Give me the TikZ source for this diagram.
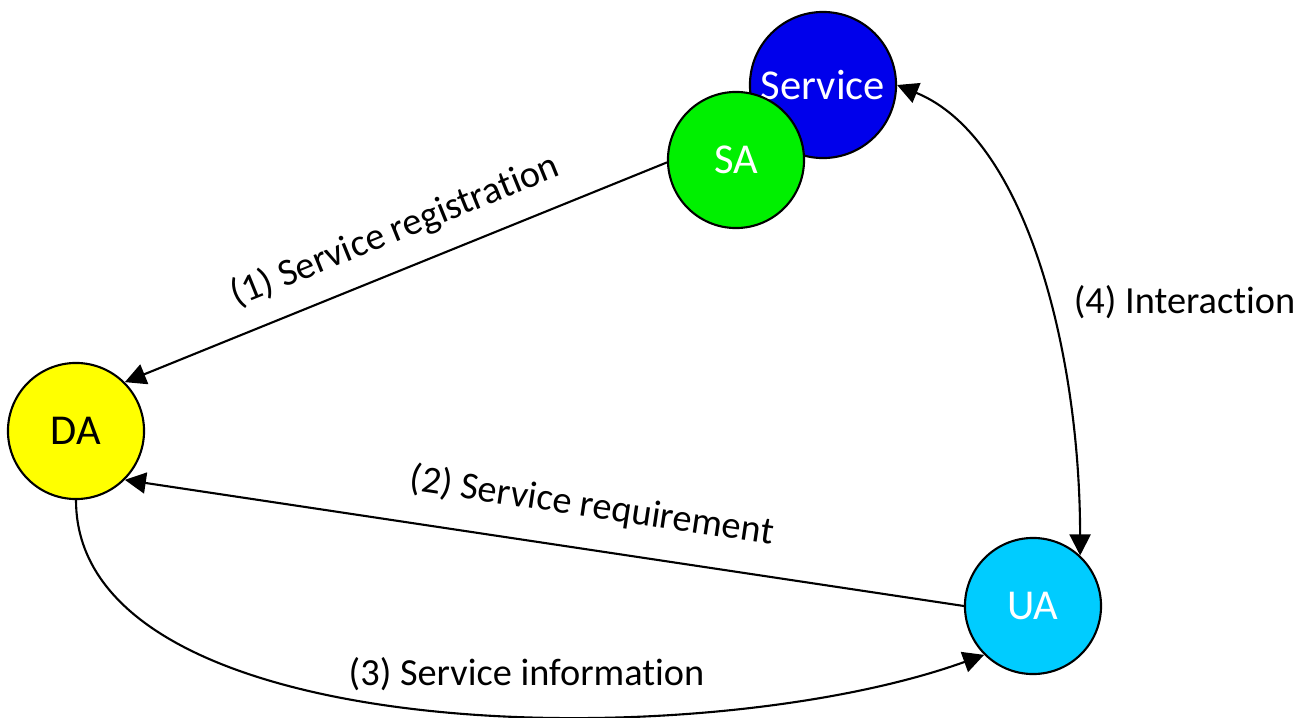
\documentclass[tikz,border=0pt]{standalone}
\usepackage{fontspec}
\setmainfont{Carlito}[Ligatures=NoCommon]
\usetikzlibrary{arrows.meta}
\definecolor{servblue}{RGB}{0,0,235}
\definecolor{sagreen}{RGB}{0,240,0}
\definecolor{dayellow}{RGB}{255,255,0}
\definecolor{uacyan}{RGB}{0,204,255}
\begin{document}
\begin{tikzpicture}[x=0.01cm,y=0.01cm,
  agent/.style={circle, draw=black, line width=0.6pt, minimum size=1.36cm, inner sep=0pt,
    font=\fontsize{12.1pt}{14pt}\selectfont},
  edge/.style={line width=0.6pt, >={Triangle[length=0.21cm,width=0.21cm]}},
  lbl/.style={inner sep=0pt, font=\fontsize{10.9pt}{13pt}\selectfont}]
\useasboundingbox (0,0) rectangle (1305,717);
\node[agent, fill=servblue, text=white, minimum size=1.46cm] (service) at (823,632) {Service};
\node[agent, fill=sagreen, text=white] (sa) at (736,557) {SA};
\node[agent, fill=dayellow] (da) at (76,286) {DA};
\node[agent, fill=uacyan, text=white] (ua) at (1033,111) {UA};
\draw[edge, <-] (da.45) -- node[lbl, sloped, above=0.2cm, pos=0.525] {(1) Service registration} (sa.182);
\draw[edge, <-] (da.-45) -- node[lbl, sloped, above=0.25cm, pos=0.549] {(2) Service requirement} (ua.west);
\draw[edge, ->] (da.south) .. controls (76,-32) and (701,-40) .. node[lbl, above=0.24cm, pos=0.587] {(3) Service information} (ua.-135);
\draw[edge, <->] (service.east) .. controls (1027,579) and (1080,362) .. node[lbl, right=0.24cm, pos=0.57] {(4) Interaction} (ua.47);
\end{tikzpicture}
\end{document}
